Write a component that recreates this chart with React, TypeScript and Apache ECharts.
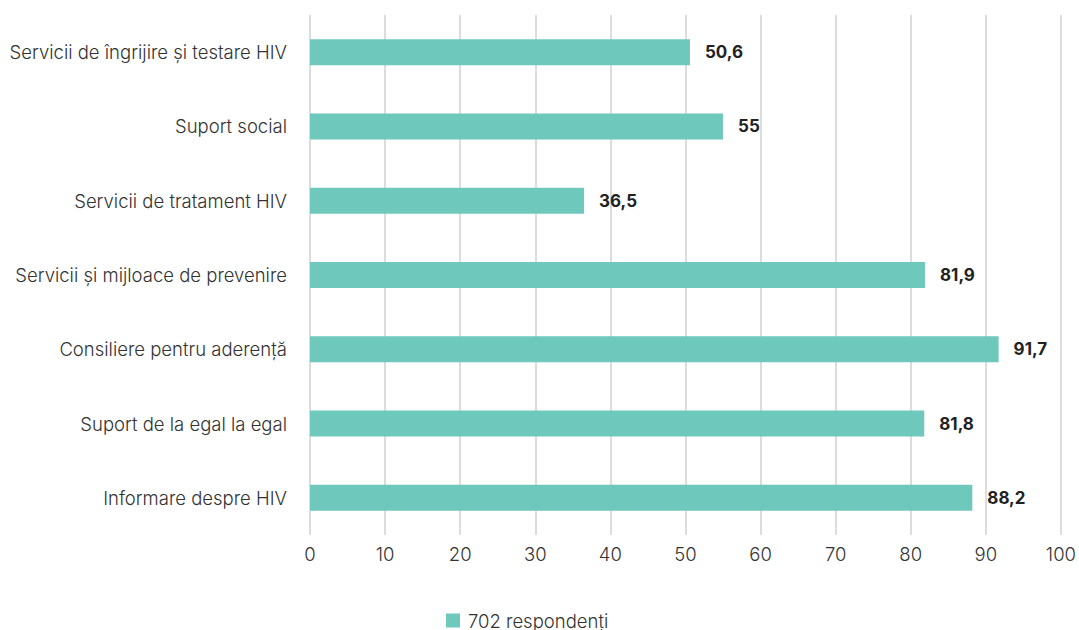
import React, { useEffect, useRef } from "react";
import * as echarts from "echarts";

const categories = [
  "Servicii de îngrijire și testare HIV",
  "Suport social",
  "Servicii de tratament HIV",
  "Servicii și mijloace de prevenire",
  "Consiliere pentru aderență",
  "Suport de la egal la egal",
  "Informare despre HIV",
];
const values = [50.6, 55, 36.5, 81.9, 91.7, 81.8, 88.2];
const seriesName = "702 respondenți";
const xTicks = [0, 10, 20, 30, 40, 50, 60, 70, 80, 90, 100];

const FONT = "Inter, 'Open Sans', sans-serif";
const TEXT_SIZE = 18.5;

export default function App() {
  const ref = useRef<HTMLDivElement>(null);
  useEffect(() => {
    if (!ref.current) return;
    const chart = echarts.init(ref.current, undefined, { renderer: "svg" });
    chart.setOption({
      animation: false,
      textStyle: { fontFamily: FONT },
      grid: { left: 310, right: 18, top: 15, bottom: 95, containLabel: false },
      legend: {
        top: 611,
        left: 446,
        padding: 0,
        itemWidth: 14,
        itemHeight: 14,
        itemGap: 13,
        icon: "rect",
        textStyle: { fontFamily: FONT, fontSize: TEXT_SIZE, fontWeight: 300, color: "#333", padding: [0, 0, 0, 3] },
        data: [seriesName],
      },
      xAxis: {
        type: "value",
        min: xTicks[0],
        max: xTicks[xTicks.length - 1],
        interval: 10,
        axisLine: { show: false },
        axisTick: { show: false },
        splitLine: { show: true, lineStyle: { color: "#dcdcdc", width: 2 } },
        axisLabel: { fontFamily: FONT, fontSize: TEXT_SIZE, fontWeight: 300, color: "#333", margin: 9 },
      },
      yAxis: {
        type: "category",
        inverse: true,
        data: categories,
        axisLine: { show: false },
        axisTick: { show: false },
        axisLabel: { fontFamily: FONT, fontSize: TEXT_SIZE, fontWeight: 300, color: "#333", margin: 23 },
      },
      series: [
        {
          name: seriesName,
          type: "bar",
          data: values,
          barWidth: "35%",
          itemStyle: { color: "#6fc8bc" },
          label: {
            show: true,
            position: "right",
            distance: 15,
            fontFamily: FONT,
            fontSize: 17,
            fontWeight: "bold",
            color: "#222",
            formatter: (p: any) => String(p.value).replace(".", ","),
          },
        },
      ],
    });
    return () => chart.dispose();
  }, []);
  return <div ref={ref} style={{ width: 1079, height: 630, position: "absolute", left: 0, top: 0 }} />;
}
